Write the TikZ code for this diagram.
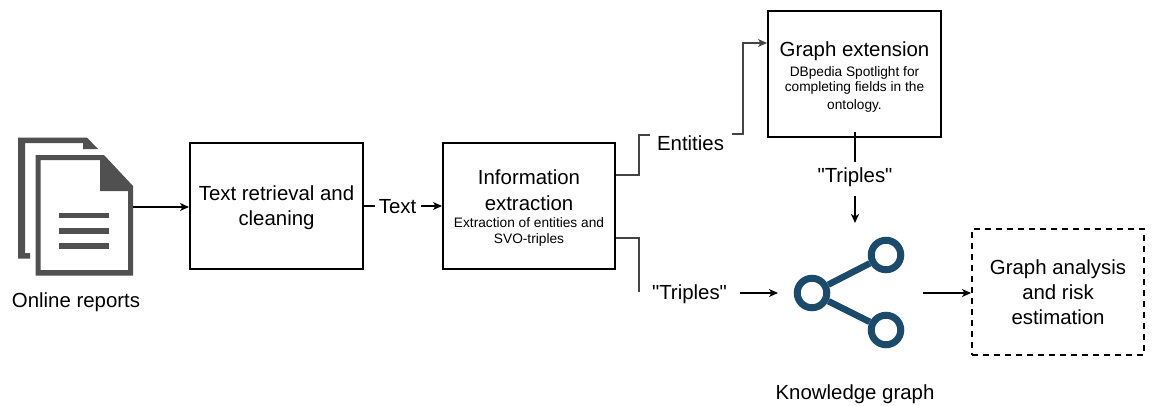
\documentclass[tikz,border=0pt]{standalone}
\usepackage{fontspec}
\setmainfont{Liberation Sans}[Ligatures=TeXOff]
\usetikzlibrary{arrows.meta}
\definecolor{icongrey}{HTML}{505050}
\definecolor{iconblue}{HTML}{1B4A6B}
\definecolor{linegrey}{HTML}{444444}
\tikzset{
  stagebox/.style={draw=black,line width=2pt,fill=white,minimum width=#1,minimum height=126pt,inner sep=0pt},
  stagebox/.default=173pt,
  dashbox/.style={draw=black,line width=2pt,dash pattern=on 6pt off 5pt,minimum width=172pt,minimum height=126pt,inner sep=0pt,align=center,font=\fontsize{20.4}{25}\selectfont},
  lbl/.style={inner sep=0pt,align=center,font=\fontsize{20.4}{25.5}\selectfont},
  subtext/.style={inner sep=0pt,align=center,font=\fontsize{13.7}{15.5}\selectfont},
  flow/.style={draw=black,line width=1.1pt,-{Stealth[length=9pt,width=8pt,inset=2.5pt]}},
  plainflow/.style={draw=linegrey,line width=1.1pt},
  docline/.style={fill=icongrey,draw=none},
  ring/.style={circle,draw=iconblue,line width=7pt,minimum size=29.5pt,inner sep=0pt},
  spoke/.style={draw=iconblue,line width=6.5pt}
}
\begin{document}
\begin{tikzpicture}[x=1pt,y=-1pt]
\useasboundingbox (0,0) rectangle (1153,405);
% document icon
\fill[icongrey] (18,137.5) -- (87,137.5) -- (98,149) -- (83,149) -- (83,143) -- (25,143) -- (25,253) -- (30,253) -- (30,258.5) -- (18,258.5) -- cycle;
\fill[icongrey,even odd rule] (35.5,155) -- (104,155) -- (133,186) -- (133,275.5) -- (35.5,275.5) -- cycle
  (40.5,160) -- (100,160) -- (100,191) -- (128,191) -- (128,270) -- (40.5,270) -- cycle;
\fill[docline] (59,212.5) rectangle (109,218);
\fill[docline] (59,228) rectangle (109,233.5);
\fill[docline] (59,243) rectangle (109,249);
\coordinate (docout) at (133,207);
\node[lbl] (online) at (76,302) {Online reports};
% boxes
\node[stagebox] (clean) at (276.5,205.5) {};
\node[lbl] (cleantext) at (276.5,207.5) {Text retrieval and\\cleaning};
\node[stagebox=172pt] (info) at (529,206) {};
\node[lbl] (infotitle) at (529,190) {Information\\extraction};
\node[subtext] (infosub) at (529,232) {Extraction of entities and\\SVO-triples};
\node[stagebox] (ext) at (854.5,73.5) {};
\node[lbl] (exttitle) at (854.5,51) {Graph extension};
\node[subtext] (extsub) at (854.5,89.5) {DBpedia Spotlight for\\completing fields in the\\[2.5pt]ontology.};
\node[dashbox] (risk) at (1058,292) {Graph analysis\\and risk\\estimation};
% labels
\node[lbl] (text) at (397.5,207) {Text};
\node[lbl] (entities) at (690.5,143.5) {Entities};
\node[lbl] (triplesa) at (855,177) {"Triples"};
\node[lbl] (triplesb) at (689.5,294.5) {"Triples"};
\node[lbl] (kg) at (855,394) {Knowledge graph};
% share icon
\node[ring] (top) at (886,255) {};
\node[ring] (left) at (812,293) {};
\node[ring] (bottom) at (886,330) {};
\draw[spoke] (left) -- (top);
\draw[spoke] (left) -- (bottom);
% connector ends
\coordinate (a1) at (421,206);
\coordinate (a2) at (375,206);
\coordinate (b1) at (639,175);
\coordinate (b2) at (650,135);
\coordinate (c1) at (732,134);
\coordinate (c2) at (743,134);
\coordinate (c3) at (743,43);
\coordinate (d1) at (639,238);
\coordinate (d2) at (639,292);
\coordinate (e1) at (740,293);
\coordinate (e2) at (778,293);
\coordinate (f1) at (923,293);
\coordinate (g1) at (855,132);
\coordinate (g2) at (855,162);
\coordinate (h1) at (855,196);
\coordinate (h2) at (855,223);
% connectors
\draw[flow] (docout) -- (clean.west |- docout);
\draw[draw=black,line width=1.1pt] (clean.east |- a2) -- (a2);
\draw[flow] (a1) -- (info.west |- a1);
\draw[plainflow] (info.east |- b1) -- (b1) |- (b2);
\draw[flow,draw=linegrey] (c1) -- (c2) -- (c3) -- (ext.west |- c3);
\draw[plainflow] (info.east |- d1) -- (d1) -- (d2);
\draw[flow] (e1) -- (e2);
\draw[flow] (f1) -- (risk.west |- f1);
\draw[draw=black,line width=2pt] (g1) -- (g2);
\draw[flow,line width=1.6pt] (h1) -- (h2);
\end{tikzpicture}
\end{document}
